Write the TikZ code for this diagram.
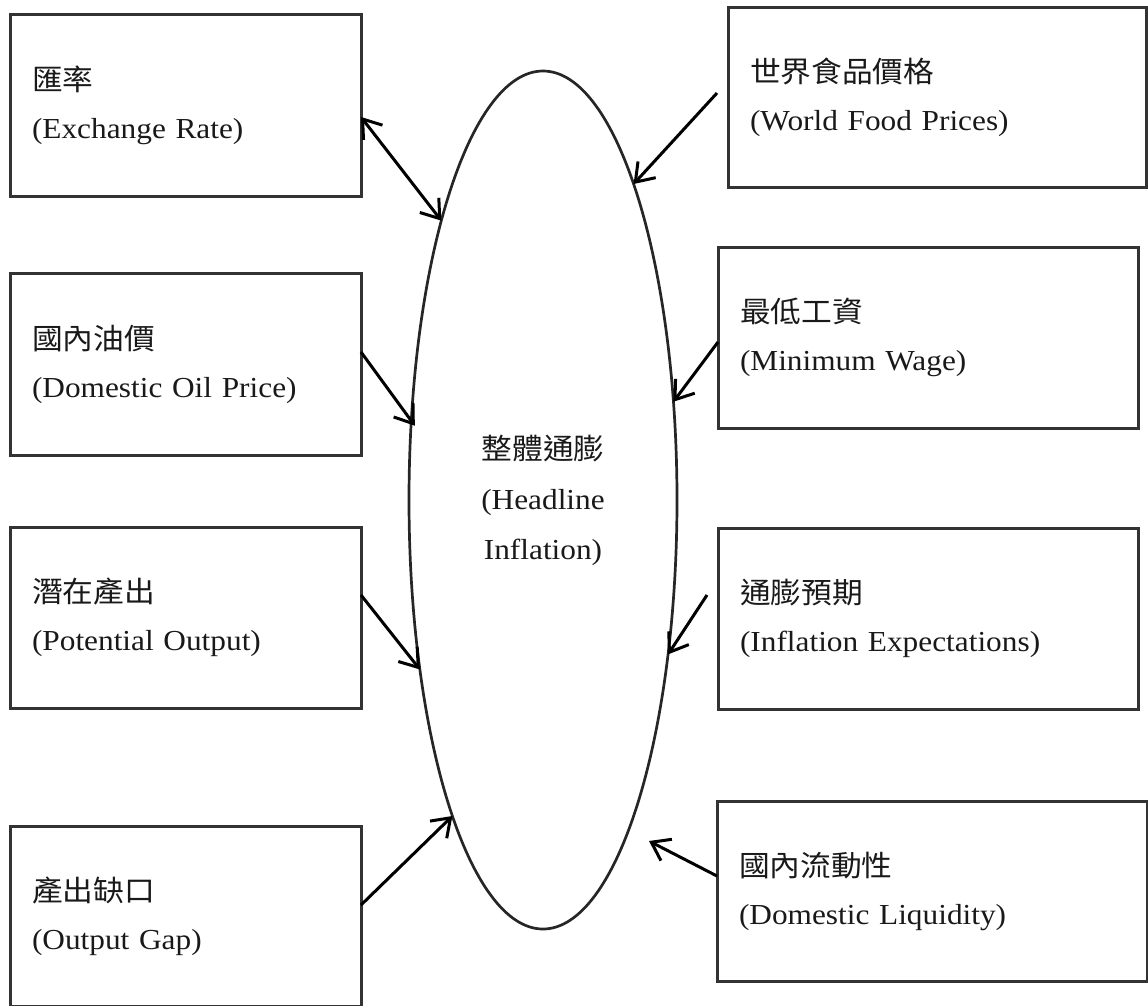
\documentclass[tikz,border=0pt]{standalone}
\usepackage{fontspec}
\setmainfont{Liberation Serif}[FakeStretch=1.08]
\newfontfamily\cjk{Noto Sans CJK TC}[FakeStretch=1.06]
\usetikzlibrary{arrows.meta,shapes.geometric,calc}

\tikzset{
    factor/.style={draw=black!80, line width=3pt, inner xsep=22pt, inner ysep=0pt, outer sep=0pt,
        align=left, text=black!90, font=\fontsize{29}{48}\selectfont},
    core/.style={ellipse, draw=black!85, line width=2.7pt, inner sep=0pt, outer sep=0pt,
        align=center, text=black!90, font=\fontsize{29}{50}\selectfont},
    link/.style={line width=3pt},
}

\begin{document}
\begin{tikzpicture}[x=1pt, y=-1pt, >={Straight Barb[length=17pt,width=24pt]}]
        \useasboundingbox (0,0) rectangle (1148,1005);
        \node [core, minimum width=268pt, minimum height=858pt] (hl) at (543,500) {{\cjk 整體通膨}\\(Headline\\Inflation)};
        \node [factor, text width=307pt, minimum height=182pt] (rate) at (185.5,105) {{\cjk 匯率}\\(Exchange Rate)};
        \node [factor, text width=307pt, minimum height=182pt] (oil) at (185.5,364) {{\cjk 國內油價}\\(Domestic Oil Price)};
        \node [factor, text width=307pt, minimum height=181pt] (pot) at (185.5,617.5) {{\cjk 潛在產出}\\(Potential Output)};
        \node [factor, text width=307pt, minimum height=180pt] (gap) at (185.5,916) {{\cjk 產出缺口}\\(Output Gap)};
        \node [factor, text width=374pt, minimum height=180pt] (food) at (937,97) {{\cjk 世界食品價格}\\(World Food Prices)};
        \node [factor, text width=376pt, minimum height=181pt] (wage) at (928,337.5) {{\cjk 最低工資}\\(Minimum Wage)};
        \node [factor, text width=376pt, minimum height=181pt] (expect) at (928,618.5) {{\cjk 通膨預期}\\(Inflation Expectations)};
        \node [factor, text width=386pt, minimum height=180pt] (liq) at (932,891) {{\cjk 國內流動性}\\(Domestic Liquidity)};
        \coordinate (food-out) at (717,93);
        \coordinate (expect-out) at (707,595);
        \coordinate (liq-tip) at (649,841);
        \draw [link, <->] ($(rate.east)+(0,12)$) -- (hl.110);
        \draw [link, ->] (food-out) -- (hl.74);
        \draw [link, ->, shorten >=-6pt] ($(oil.east)+(0,-12)$) -- (hl.149);
        \draw [link, ->] ($(wage.west)+(0,4.5)$) -- (hl.37);
        \draw [link, ->] ($(pot.east)+(0,-22.5)$) -- (hl.234);
        \draw [link, ->] (expect-out) -- (hl.309);
        \draw [link, ->] ($(gap.east)+(0,-11)$) -- (hl.254);
        \draw [link, ->] ($(liq.west)+(0,-15)$) -- (liq-tip);
    \end{tikzpicture}
\end{document}
